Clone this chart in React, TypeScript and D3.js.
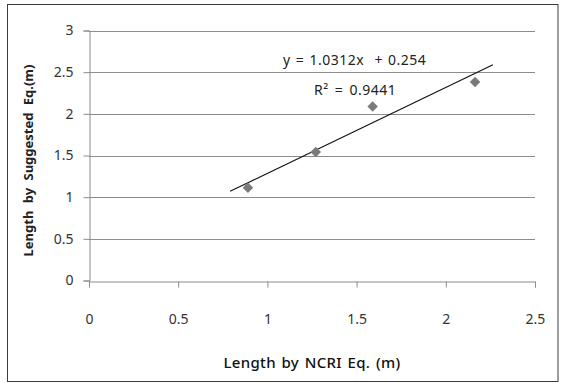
import React, { useRef, useEffect } from 'react';
import * as d3 from 'd3';

// measured values (m)
const ncriLength = [0.891, 1.271, 1.59, 2.164];
const suggestedLength = [1.112, 1.541, 2.088, 2.381];

// trendline reported in the chart
const slope = 1.0312;
const intercept = 0.254;
const equationText = 'y = 1.0312x  + 0.254';
const r2Text = 'R² = 0.9441';

const xTicks = [0, 0.5, 1, 1.5, 2, 2.5];
const yTicks = [0, 0.5, 1, 1.5, 2, 2.5, 3];

const App = () => {
    const chartRef = useRef(null);

    useEffect(() => {
        const width = 563;
        const height = 383;
        const margin = { top: 30.5, right: 28, bottom: 102.5, left: 89 };
        const font = '"Noto Sans", "DejaVu Sans", sans-serif';

        const svg = d3.select(chartRef.current)
            .attr('width', width)
            .attr('height', height);
        svg.selectAll('*').remove();

        svg.append('rect')
            .attr('x', 0).attr('y', 0)
            .attr('width', width).attr('height', height)
            .attr('fill', '#fff');

        svg.append('rect')
            .attr('x', 7.5).attr('y', 4.5)
            .attr('width', 550.5).attr('height', 377)
            .attr('fill', 'none')
            .attr('stroke', '#3c3c3c')
            .attr('stroke-width', 1);

        const x = d3.scaleLinear()
            .domain([0, 2.5])
            .range([margin.left, width - margin.right]);
        const y = d3.scaleLinear()
            .domain([0, 3])
            .range([height - margin.bottom, margin.top]);

        // gridlines
        svg.append('g')
            .selectAll('line')
            .data(yTicks.filter(t => t > 0))
            .enter().append('line')
            .attr('x1', x(0)).attr('x2', x(2.5))
            .attr('y1', d => Math.round(y(d)) + 0.5)
            .attr('y2', d => Math.round(y(d)) + 0.5)
            .attr('stroke', '#8c8c8c');

        // y axis
        const yAxis = svg.append('g')
            .attr('transform', `translate(${Math.round(x(0)) + 0.5},0)`)
            .call(d3.axisLeft(y).tickValues(yTicks).tickSize(6).tickPadding(10).tickFormat(d3.format('')));
        yAxis.select('.domain').attr('stroke', '#8c8c8c');
        yAxis.selectAll('.tick line').attr('stroke', '#8c8c8c');
        yAxis.selectAll('.tick text')
            .attr('font-family', font).attr('font-size', 14).attr('fill', '#333');

        // x axis
        const xAxis = svg.append('g')
            .attr('transform', `translate(0,${Math.round(y(0)) + 0.5})`)
            .call(d3.axisBottom(x).tickValues(xTicks).tickSize(6).tickPadding(27).tickFormat(d3.format('')));
        xAxis.select('.domain').attr('stroke', '#8c8c8c');
        xAxis.selectAll('.tick line').attr('stroke', '#8c8c8c');
        xAxis.selectAll('.tick text')
            .attr('font-family', font).attr('font-size', 14).attr('fill', '#333');

        // trendline, forecast 0.1 both ways
        const x0 = d3.min(ncriLength) - 0.1;
        const x1 = d3.max(ncriLength) + 0.1;
        svg.append('path')
            .datum([x0, x1])
            .attr('d', d3.line().x(d => x(d)).y(d => y(slope * d + intercept)))
            .attr('stroke', '#111')
            .attr('stroke-width', 1.1)
            .attr('fill', 'none');

        // markers
        const diamond = d3.symbol().type(d3.symbolDiamond2).size(70);
        svg.append('g')
            .selectAll('path')
            .data(ncriLength.map((d, i) => [d, suggestedLength[i]]))
            .enter().append('path')
            .attr('transform', d => `translate(${x(d[0])},${y(d[1])})`)
            .attr('d', diamond)
            .attr('fill', '#7a7a7a');

        svg.append('text')
            .attr('x', 283).attr('y', 65)
            .attr('font-family', font).attr('font-size', 14).attr('fill', '#222')
            .attr('letter-spacing', 0.5).attr('word-spacing', 1)
            .style('white-space', 'pre')
            .text(equationText);
        svg.append('text')
            .attr('x', 314).attr('y', 95)
            .attr('font-family', font).attr('font-size', 14).attr('fill', '#222')
            .attr('letter-spacing', 0.5).attr('word-spacing', 2)
            .text(r2Text);

        // axis titles
        svg.append('text')
            .attr('x', (x(0) + x(2.5)) / 2).attr('y', 368)
            .attr('text-anchor', 'middle')
            .attr('font-family', font).attr('font-size', 15).attr('font-weight', 500).attr('fill', '#111')
            .attr('letter-spacing', 0.3).attr('word-spacing', 1.5)
            .text('Length by NCRI Eq. (m)');
        svg.append('text')
            .attr('transform', `translate(33,${(y(0) + y(3)) / 2 + 5}) rotate(-90)`)
            .attr('text-anchor', 'middle')
            .attr('font-family', font).attr('font-size', 13).attr('font-weight', 'bold').attr('fill', '#222')
            .attr('word-spacing', 4)
            .text('Length by Suggested Eq.(m)');
    }, []);

    return (
        <svg ref={chartRef} style={{ position: 'absolute', left: 0, top: 0 }}></svg>
    );
};

export default App;
